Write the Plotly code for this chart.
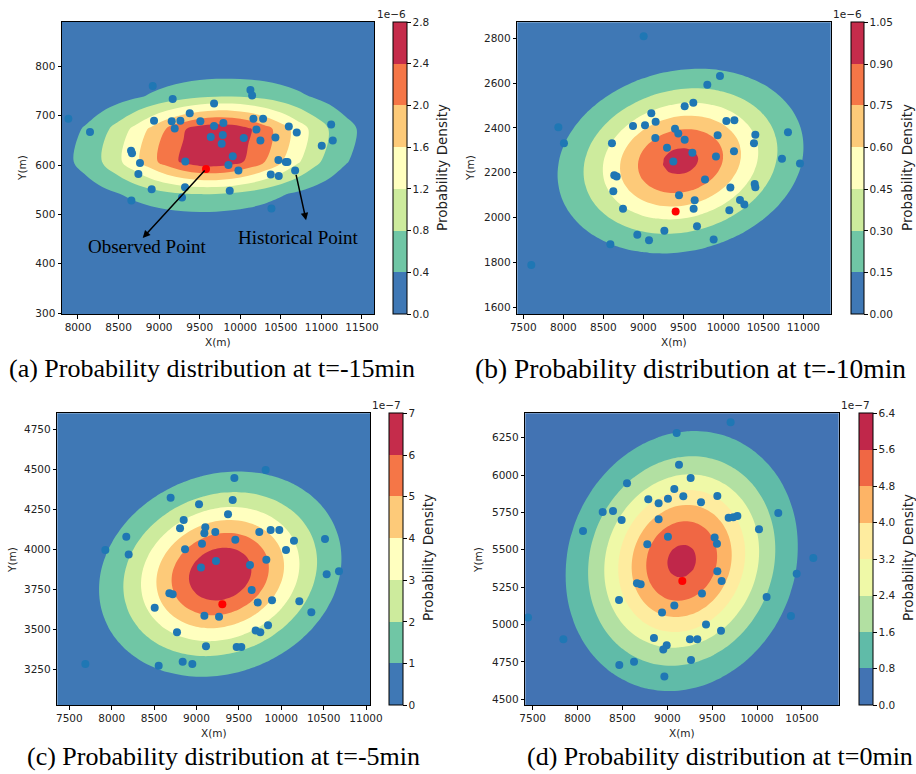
import numpy as np
import plotly.graph_objects as go

W, H = 916, 774

# ---------------- data ----------------
# (a) t=-15min
hist_a_x = [7881, 8148, 8921, 9167, 8937, 9155, 9262, 9192, 9377, 9508, 9677, 9677, 9792, 9636, 9784, 9771,
            10125, 10146, 10162, 10281, 10199, 10043, 10248, 10433, 10598, 10696, 11004, 11120, 11140, 9907,
            9854, 9977, 9870, 9323, 9319, 9282, 8654, 8666, 8764, 8744, 8908, 8658, 10470, 10561, 10581,
            10376, 10474, 10676, 10384]
hist_a_y = [694, 667, 760, 734, 690, 689, 690, 674, 705, 689, 725, 679, 685, 657, 661, 643, 752, 741, 694,
            694, 672, 655, 650, 656, 678, 666, 639, 682, 650, 618, 600, 589, 548, 607, 555, 534, 629, 624,
            604, 582, 551, 528, 610, 606, 606, 581, 578, 589, 512]
obs_a = [9578, 592]

# (b) t=-10min
hist_b_x = [9004, 9958, 9800, 9517, 9625, 9100, 9154, 8871, 9021, 9396, 9437, 9150, 9517, 10038, 10138, 9929,
            10400, 10383, 10808, 7938, 8008, 8608, 9296, 9613, 9908, 10133, 9375, 10733, 10958, 8637, 8667,
            8625, 9771, 10088, 10392, 10400, 9446, 9642, 9629, 8746, 10075, 10208, 10263, 9671, 9263, 8925,
            9071, 9879, 8588, 7600]
hist_b_y = [2809, 2632, 2593, 2497, 2512, 2465, 2427, 2409, 2412, 2396, 2375, 2355, 2347, 2431, 2434, 2367,
            2370, 2332, 2381, 2403, 2332, 2332, 2311, 2289, 2272, 2296, 2250, 2262, 2241, 2189, 2183, 2118,
            2170, 2134, 2150, 2135, 2100, 2077, 2039, 2039, 2033, 2079, 2058, 1961, 1941, 1923, 1899, 1902,
            1881, 1789]
obs_b = [9404, 2027]

# (c) t=-5min
hist_c_x = [9816, 9447, 8695, 9030, 9427, 9372, 8849, 8806, 9104, 9093, 9222, 9741, 9875, 9977, 8172, 7925,
            8200, 8865, 9065, 9458, 10150, 10056, 10516, 9230, 9053, 9631, 9824, 10536, 10681, 9651, 8680,
            8719, 9722, 9891, 10213, 10355, 8507, 9093, 9266, 8770, 9698, 9753, 9844, 9112, 9474, 9529, 8837,
            8951, 8554, 7689]
hist_c_y = [4496, 4446, 4323, 4281, 4308, 4219, 4183, 4131, 4138, 4100, 4108, 4108, 4121, 4121, 4079, 3996,
            3967, 4000, 4035, 4060, 4054, 3996, 4065, 3927, 3887, 3902, 3935, 3844, 3863, 3746, 3725, 3719,
            3667, 3681, 3675, 3606, 3635, 3585, 3579, 3481, 3492, 3481, 3525, 3394, 3390, 3390, 3298, 3283,
            3273, 3283]
obs_c = [9305, 3656]

# (d) t=0min
hist_d_x = [9705, 9104, 9130, 9260, 8551, 9078, 8788, 8903, 9007, 9178, 9375, 9557, 8280, 8395, 8491, 8903,
            9683, 9735, 9780, 10236, 8061, 10021, 9007, 9527, 9553, 8777, 10626, 9557, 10441, 9605, 8662,
            8703, 9386, 8462, 10106, 9078, 8941, 9431, 7448, 10377, 9598, 8851, 9252, 9334, 7842, 8993, 8955,
            9264, 8629, 8465, 8967]
hist_d_y = [6353, 6281, 6069, 5980, 5945, 5907, 5838, 5811, 5842, 5858, 5818, 5860, 5753, 5760, 5699, 5704,
            5715, 5717, 5726, 5746, 5626, 5637, 5588, 5583, 5541, 5537, 5445, 5356, 5340, 5291, 5276, 5269,
            5207, 5164, 5184, 5127, 5080, 5000, 5048, 5057, 4959, 4910, 4901, 4901, 4901, 4861, 4834, 4763,
            4752, 4730, 4652]
obs_d = [9167, 5291]

# fitted density parameters (display units: 1e-6, 1e-6, 1e-7, 1e-7)
dens_cx = [9690, 9465, 9280, 9160]
dens_cy = [640, 2252, 3845, 5425]
dens_sx = [870, 803, 729, 650]
dens_sy = [60, 215, 327, 437]
dens_rho = [0.10, 0.15, 0.15, 0.11]
dens_peak = [3.12, 0.935, 6.82, 5.78]

level_step = [0.4, 0.15, 1.0, 0.8]
band_count = [7, 7, 7, 8]
multiplier_text = ["1e\u22126", "1e\u22126", "1e\u22127", "1e\u22127"]
tick_fmt = [".1f", ".2f", "d", ".1f"]

x_ticks = [[8000, 8500, 9000, 9500, 10000, 10500, 11000, 11500],
           [7500, 8000, 8500, 9000, 9500, 10000, 10500, 11000],
           [7500, 8000, 8500, 9000, 9500, 10000, 10500, 11000],
           [7500, 8000, 8500, 9000, 9500, 10000, 10500]]
y_ticks = [[300, 400, 500, 600, 700, 800],
           [1600, 1800, 2000, 2200, 2400, 2600, 2800],
           [3250, 3500, 3750, 4000, 4250, 4500, 4750],
           [4500, 4750, 5000, 5250, 5500, 5750, 6000, 6250]]
x_ranges = [[7803, 11648], [7425, 11342], [7358, 11047], [7418, 10909]]
y_ranges = [[298, 890], [1570, 2871], [3027, 4850], [4462, 6413]]

captions = ["(a) Probability distribution at t=-15min", "(b) Probability distribution at t=-10min",
            "(c) Probability distribution at t=-5min", "(d) Probability distribution at t=0min"]

hist_x = [hist_a_x, hist_b_x, hist_c_x, hist_d_x]
hist_y = [hist_a_y, hist_b_y, hist_c_y, hist_d_y]
obs = [obs_a, obs_b, obs_c, obs_d]

# ---------------- layout geometry (pixels) ----------------
plot_box = [(62, 22, 374, 314), (517.3, 22.3, 830.7, 314), (57.3, 413.3, 370, 705), (525.3, 413.3, 838.7, 705)]
cbar_left = [393, 851, 389.3, 858.7]
cbar_w = [14, 13, 14, 13.5]
caption_pos = [(212, 368, 26), (690, 368, 27.5), (223, 756, 26), (720, 756, 26)]
xtitle_pos = [(218, 342), (674, 342), (214, 733), (682, 733)]
ytitle_pos = [(22, 168), (470, 168), (12, 560), (478, 560)]
cbtitle_pos = [(442, 168), (907, 168), (428, 558), (908, 558)]
mult_pos = [(408, 14), (864, 14), (403, 405), (872, 405)]

spectral7 = ["#3f78b5", "#70c6a5", "#cdeb9d", "#ffffbf", "#fdca79", "#f57647", "#c52c4b"]
spectral8 = ["#4273b3", "#60bba8", "#b2e0a2", "#eff9a7", "#feec9f", "#fdb466", "#f06744", "#c0274a"]


def px(x):
    return x / W


def py(y):
    return 1 - y / H


def step_scale(colors):
    n = len(colors)
    out = []
    for i, c in enumerate(colors):
        out.append([i / n, c])
        out.append([(i + 1) / n, c])
    return out


def density(xg, yg, i):
    X, Y = np.meshgrid(xg, yg)
    dx = (X - dens_cx[i]) / dens_sx[i]
    dy = (Y - dens_cy[i]) / dens_sy[i]
    r = dens_rho[i]
    q = (dx ** 2 - 2 * r * dx * dy + dy ** 2) / (1 - r ** 2)
    return dens_peak[i] * np.exp(-0.5 * q)


fig = go.Figure()
layout = dict(template="none", width=W, height=H, margin=dict(l=0, r=0, t=0, b=0, pad=0),
              paper_bgcolor="white", plot_bgcolor="white", showlegend=False, annotations=[])

tickfont = dict(family="DejaVu Sans", size=10.5, color="#222")

for i in range(4):
    sfx = "" if i == 0 else str(i + 1)
    xa, ya = "x" + sfx, "y" + sfx
    cax = "coloraxis" + sfx
    x0, y0, x1, y1 = plot_box[i]

    # grid on which the density is evaluated
    if i == 0:
        xg = np.arange(7700, 11801, 200)
        yg = np.arange(277, 941, 66)
    else:
        xr, yr = x_ranges[i], y_ranges[i]
        xg = np.linspace(xr[0] - 100, xr[1] + 100, 48)
        yg = np.linspace(yr[0] - 50, yr[1] + 50, 48)
    z = density(xg, yg, i)

    st = level_step[i]
    nb = band_count[i]
    colors = spectral7 if nb == 7 else spectral8
    fig.add_trace(go.Contour(
        x=xg, y=yg, z=z, xaxis=xa, yaxis=ya, colorscale=step_scale(colors), showscale=False,
        autocontour=False,
        contours=dict(start=st, end=st * (nb - 1), size=st, coloring="fill", showlines=False),
        line=dict(width=0), hoverinfo="skip"))

    # carrier of the colour bar (draws nothing)
    fig.add_trace(go.Scatter(x=[None], y=[None], mode="markers", xaxis=xa, yaxis=ya,
                             marker=dict(color=[0], coloraxis=cax), hoverinfo="skip"))

    fig.add_trace(go.Scatter(x=hist_x[i], y=hist_y[i], mode="markers", xaxis=xa, yaxis=ya,
                             marker=dict(color="#1f77b4", size=8, line=dict(width=0))))
    fig.add_trace(go.Scatter(x=[obs[i][0]], y=[obs[i][1]], mode="markers", xaxis=xa, yaxis=ya,
                             marker=dict(color="#ff0000", size=8, line=dict(width=0))))

    axcommon = dict(ticks="outside", ticklen=3.5, tickwidth=1, tickcolor="#000", showline=True,
                    mirror=True, linecolor="#000", linewidth=1, showgrid=False, zeroline=False,
                    tickfont=tickfont, tickformat="d", automargin=False)
    layout["xaxis" + sfx] = dict(domain=[px(x0), px(x1)], range=x_ranges[i], anchor=ya,
                                 tickmode="array", tickvals=x_ticks[i], **axcommon)
    layout["yaxis" + sfx] = dict(domain=[py(y1), py(y0)], range=y_ranges[i], anchor=xa,
                                 tickmode="array", tickvals=y_ticks[i], **axcommon)

    layout[cax] = dict(
        cmin=0, cmax=st * nb, colorscale=step_scale(colors), showscale=True,
        colorbar=dict(x=px(cbar_left[i]), xanchor="left", xpad=0, thickness=cbar_w[i],
                      y=py(y0), yanchor="top", ypad=0, lenmode="fraction", len=(y1 - y0) / H,
                      outlinewidth=1, outlinecolor="#000", ticks="outside", ticklen=3.5,
                      tickwidth=1, tickcolor="#000", tickmode="linear", tick0=0, dtick=st,
                      tickformat=tick_fmt[i], tickfont=tickfont, bgcolor="rgba(0,0,0,0)",
                      borderwidth=0))

    ann = layout["annotations"]
    ann.append(dict(text=captions[i], x=px(caption_pos[i][0]), y=py(caption_pos[i][1]), xref="paper",
                    yref="paper", showarrow=False, xanchor="center", yanchor="middle",
                    font=dict(family="Liberation Serif", size=caption_pos[i][2], color="#000")))
    ann.append(dict(text="X(m)", x=px(xtitle_pos[i][0]), y=py(xtitle_pos[i][1]), xref="paper",
                    yref="paper", showarrow=False, xanchor="center", yanchor="middle",
                    font=dict(family="DejaVu Sans", size=10.5, color="#222")))
    ann.append(dict(text="Y(m)", x=px(ytitle_pos[i][0]), y=py(ytitle_pos[i][1]), xref="paper",
                    yref="paper", showarrow=False, xanchor="center", yanchor="middle", textangle=-90,
                    font=dict(family="DejaVu Sans", size=10.5, color="#222")))
    ann.append(dict(text="Probability Density", x=px(cbtitle_pos[i][0]), y=py(cbtitle_pos[i][1]),
                    xref="paper", yref="paper", showarrow=False, xanchor="center", yanchor="middle",
                    textangle=-90, font=dict(family="DejaVu Sans", size=13.5, color="#222")))
    ann.append(dict(text=multiplier_text[i], x=px(mult_pos[i][0]), y=py(mult_pos[i][1]),
                    xref="paper", yref="paper", showarrow=False, xanchor="right", yanchor="middle",
                    font=dict(family="DejaVu Sans", size=10.5, color="#222")))

# arrows and labels in panel (a)
ann = layout["annotations"]
ann.append(dict(x=8798, y=452, ax=obs_a[0], ay=obs_a[1], xref="x", yref="y", axref="x", ayref="y",
                text="", showarrow=True, arrowhead=2, arrowsize=1, arrowwidth=1.5, arrowcolor="#000"))
ann.append(dict(x=10811, y=488, ax=hist_a_x[47], ay=hist_a_y[47], xref="x", yref="y", axref="x", ayref="y",
                text="", showarrow=True, arrowhead=2, arrowsize=1, arrowwidth=1.5, arrowcolor="#000",
                startstandoff=3))
ann.append(dict(text="Observed Point", x=8845, y=434, xref="x", yref="y", showarrow=False,
                font=dict(family="Liberation Serif", size=19, color="#000")))
ann.append(dict(text="Historical Point", x=10713, y=453, xref="x", yref="y", showarrow=False,
                font=dict(family="Liberation Serif", size=19, color="#000")))

fig.update_layout(**layout)
fig.write_html("out.html", config={"displayModeBar": False},
               post_script="document.body.style.margin='0';document.body.style.overflow='hidden';")
